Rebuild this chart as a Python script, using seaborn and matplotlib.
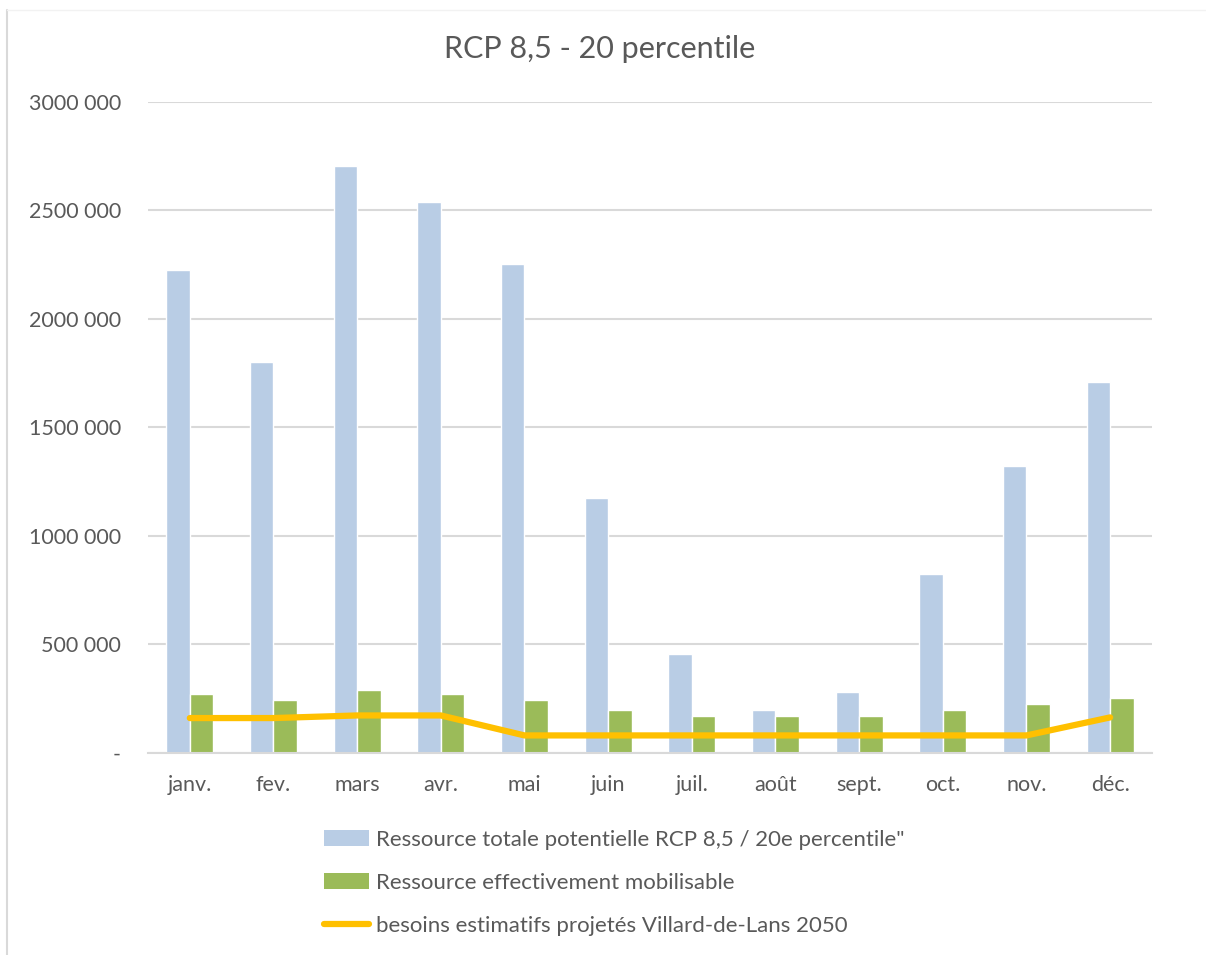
import numpy as np
import pandas as pd
import matplotlib.pyplot as plt
import seaborn as sns
from matplotlib.patches import Patch
from matplotlib.lines import Line2D

# data
mois = ['janv.', 'fev.', 'mars', 'avr.', 'mai', 'juin',
        'juil.', 'août', 'sept.', 'oct.', 'nov.', 'déc.']
ressource_totale = [2224000, 1800000, 2703000, 2537000, 2251000, 1174000,
                    456000, 198000, 281000, 824000, 1321000, 1708000]
ressource_mobilisable = [272000, 244000, 290000, 272000, 244000, 198000,
                         170000, 170000, 170000, 198000, 226000, 253000]
besoins_2050 = [161000, 161000, 173000, 173000, 81000, 81000,
                81000, 81000, 81000, 81000, 81000, 164000]

y_ticks = [0, 500000, 1000000, 1500000, 2000000, 2500000, 3000000]
y_tick_labels = ['-', '500 000', '1000 000', '1500 000', '2000 000', '2500 000', '3000 000']

lab_tot = 'Ressource totale potentielle RCP 8,5 / 20e percentile"'
lab_mob = 'Ressource effectivement mobilisable'
lab_bes = 'besoins estimatifs projetés Villard-de-Lans 2050'

col_tot = '#B9CDE5'
col_mob = '#9BBB59'
col_bes = '#FFC000'
txt_col = '#595959'
grid_col = '#D9D9D9'

df = pd.DataFrame({
    'mois': mois * 2,
    'serie': [lab_tot] * len(mois) + [lab_mob] * len(mois),
    'valeur': ressource_totale + ressource_mobilisable,
})

sns.set_style('white')
plt.rcParams['font.family'] = ['Lato', 'DejaVu Sans']

fig = plt.figure(figsize=(12.06, 9.55), dpi=100)
ax = fig.add_axes([0.1227, 0.2115, 0.8325, 0.6822])

sns.barplot(data=df, x='mois', y='valeur', hue='serie', order=mois,
            hue_order=[lab_tot, lab_mob], palette=[col_tot, col_mob],
            width=0.56, gap=0, saturation=1, errorbar=None, ax=ax, legend=False)

# line on the categorical positions used by barplot
sns.lineplot(x=np.arange(len(mois)), y=besoins_2050, color=col_bes,
             linewidth=4.5, ax=ax, legend=False, zorder=5)

ax.set_xlim(-0.5, len(mois) - 0.5)
ax.set_ylim(0, 3000000)
ax.set_yticks(y_ticks)
ax.set_yticklabels(y_tick_labels)
ax.set_xticks(range(len(mois)))
ax.set_xticklabels(mois)
ax.set_xlabel('')
ax.set_ylabel('')

ax.yaxis.grid(True, color=grid_col, linewidth=1.5)
ax.set_axisbelow(True)
for s in ['top', 'right', 'left']:
    ax.spines[s].set_visible(False)
ax.spines['bottom'].set_color(grid_col)
ax.spines['bottom'].set_linewidth(1.5)
ax.tick_params(axis='both', length=0, colors=txt_col, labelsize=15.5)
ax.tick_params(axis='y', pad=19.5)
ax.tick_params(axis='x', pad=16)

fig.text(0.4975, 0.949, 'RCP 8,5 - 20 percentile', ha='center', va='center',
         fontsize=22, color=txt_col)

handles = [Patch(facecolor=col_tot, edgecolor='none'),
           Patch(facecolor=col_mob, edgecolor='none'),
           Line2D([0], [0], color=col_bes, linewidth=4.5, solid_capstyle='round')]
fig.legend(handles, [lab_tot, lab_mob, lab_bes], loc='center left',
           bbox_to_anchor=(0.252, 0.0755), frameon=False, fontsize=16,
           labelcolor=txt_col, handlelength=2.05, handletextpad=0.3,
           labelspacing=1.05)

# chart border visible at left/top
fig.add_artist(Line2D([0.0058, 0.0058], [0.0, 0.99], color=grid_col, linewidth=1.5))
fig.add_artist(Line2D([0.0058, 1.0], [0.99, 0.99], color='#F2F2F2', linewidth=1.0))

fig.savefig('out.png', dpi=100)
